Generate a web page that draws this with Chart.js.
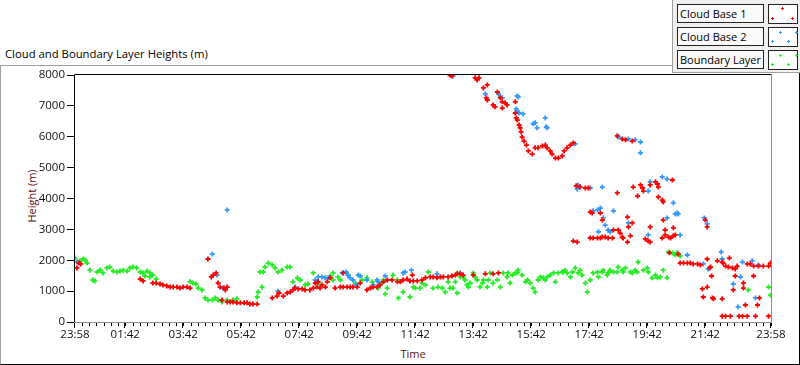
<!DOCTYPE html>
<html>
<head>
<meta charset="utf-8">
<script src="https://cdn.jsdelivr.net/npm/chart.js@4"></script>
<style>
body { margin: 0; background: #fff; }
#wrap { position: relative; width: 800px; height: 365px; overflow: hidden; background: #fff; font-family: "Open Sans", sans-serif; font-size: 11px; }
#frame { position: absolute; left: 0; top: 65px; width: 800px; height: 300px; box-sizing: border-box;
  border-top: 1px solid #a0a0a0; border-left: 1px solid #a0a0a0; border-right: 1px solid #000; border-bottom: 1px solid #000; }
#chart { position: absolute; left: 0; top: 0; }
#title { position: absolute; left: 5px; top: 46px; color: #000; white-space: nowrap; font-size: 11.3px; }
#ytitle { position: absolute; left: 31px; top: 196px; color: #5a1010; transform: translate(-50%, -50%) rotate(-90deg); white-space: nowrap; }
#xtitle { position: absolute; left: 413px; top: 346px; color: #5a1010; transform: translateX(-50%); }
#legend { position: absolute; left: 672px; top: 0; width: 128px; height: 73px; box-sizing: border-box; background: #f0f0f0;
  border-left: 1px solid #a0a0a0; border-bottom: 1px solid #a0a0a0; z-index: 2; }
.lab { position: absolute; left: 4px; width: 87px; height: 19px; box-sizing: border-box; border: 1px solid #222; background: #fafafa;
  padding-left: 2px; line-height: 17px; white-space: nowrap; overflow: hidden; }
.sw { position: absolute; left: 95px; width: 30px; height: 20px; box-sizing: border-box; border: 1px solid #222; background: #fff; }
.p { position: absolute; width: 3px; height: 3px; }
.p::before, .p::after { content: ""; position: absolute; background: currentColor; }
.p::before { left: 1px; top: 0; width: 1px; height: 3px; }
.p::after { left: 0; top: 1px; width: 3px; height: 1px; }
</style>
</head>
<body>
<div id="wrap">
  <div id="frame"></div>
  <div id="title">Cloud and Boundary Layer Heights (m)</div>
  <div id="ytitle">Height (m)</div>
  <div id="xtitle">Time</div>
  <canvas id="chart" width="800" height="365"></canvas>
  <div id="legend"></div>
</div>
<script>
// ==============================
// DATA  (minutes after 23:58, height in m)
// ==============================
const seriesNames = ["Cloud Base 1", "Cloud Base 2", "Boundary Layer"];
const seriesColors = ["#ff0000", "#3399ff", "#22ee22"];

const cloudBase1 = [
  [4,1750],[8,1910],[12,1880],[135,1390],[141,1330],[161,1260],[168,1260],[176,1230],[182,1200],[190,1170],
  [197,1130],[203,1130],[211,1130],[217,1100],[224,1130],[232,1130],[238,1100],[275,2040],[282,1460],[286,1520],
  [292,1590],[296,1260],[300,1130],[308,1100],[315,1130],[311,1040],[304,710],[315,650],[321,650],[327,650],
  [335,620],[342,620],[350,620],[356,620],[362,580],[368,580],[377,580],[408,780],[418,840],[422,940],
  [431,840],[439,940],[445,970],[451,1040],[455,1100],[462,1070],[470,1070],[476,1040],[486,1040],[493,1100],
  [497,1260],[501,1130],[503,1300],[507,1100],[511,1200],[518,1130],[522,1300],[528,1430],[538,1100],[549,1130],
  [555,1130],[563,1130],[569,1130],[575,1130],[584,1130],[555,1590],[590,1260],[604,1040],[611,1100],[617,1130],
  [625,1130],[631,1200],[638,1300],[646,1360],[656,1360],[667,1300],[673,1300],[679,1360],[687,1390],[693,1330],
  [698,1520],[700,1330],[708,1330],[718,1360],[725,1430],[735,1460],[741,1460],[749,1430],[756,1460],[762,1460],
  [772,1460],[780,1490],[787,1520],[791,1560],[797,1560],[803,1520],[824,1520],[849,1560],[865,1560],[876,1590],
  [776,7990],[780,7970],[828,7910],[832,7840],[836,7910],[845,7580],[853,7680],[851,7260],[853,7190],[865,7030],
  [869,6970],[874,7450],[880,7260],[884,7130],[884,6930],[890,7100],[894,7030],[911,7130],[911,6770],[913,6610],
  [915,6540],[919,6380],[921,6290],[923,6160],[925,5990],[929,5860],[934,5730],[938,5540],[946,5440],[952,5640],
  [958,5640],[967,5700],[973,5730],[977,5640],[983,5540],[987,5440],[994,5310],[1000,5310],[1008,5380],[1012,5540],
  [1018,5640],[1025,5730],[1031,5800],[1031,2620],[1039,2590],[1037,4410],[1045,4370],[1056,4340],[1062,4340],[1066,3560],
  [1070,3530],[1087,3530],[1091,3300],[1066,2720],[1072,2720],[1081,2720],[1087,2720],[1091,2750],[1097,2750],[1103,2720],
  [1112,2720],[1114,2980],[1122,4180],[1122,6030],[1124,2980],[1128,2880],[1132,5930],[1132,2750],[1134,2720],[1139,5900],
  [1143,3400],[1143,2590],[1145,3080],[1149,2790],[1153,3210],[1153,5860],[1155,4370],[1164,4080],[1170,4440],[1174,4340],
  [1176,4240],[1180,2690],[1186,2620],[1190,2590],[1190,3080],[1190,4440],[1201,4540],[1205,4470],[1207,4370],[1207,4050],
  [1215,3950],[1217,3890],[1217,3300],[1221,2980],[1215,2720],[1221,2820],[1228,2750],[1232,2720],[1236,4600],[1238,3050],
  [1242,2820],[1238,2790],[1230,2240],[1248,2200],[1252,1910],[1259,1910],[1267,1910],[1273,1910],[1279,1880],[1288,1880],
  [1294,1850],[1304,3300],[1308,3080],[1308,2040],[1313,1750],[1315,1780],[1317,1490],[1308,1130],[1298,1070],[1300,810],
  [1319,780],[1321,750],[1329,1980],[1339,1940],[1341,1910],[1346,1810],[1352,1780],[1354,2070],[1360,1750],[1366,1720],
  [1370,1810],[1339,750],[1366,1490],[1362,1040],[1383,1100],[1383,1260],[1387,550],[1391,1880],[1397,1880],[1404,1810],
  [1404,1490],[1412,550],[1416,780],[1414,1810],[1424,1810],[1435,1810],[1439,1910],[1339,190],[1346,190],[1356,190],
  [1374,190],[1381,190],[1391,190],[1408,190],[1435,190]
];

const cloudBase2 = [
  [4,1940],[284,2200],[315,3630],[294,1520],[306,1100],[420,1000],[455,1130],[497,1360],[503,1460],[511,1460],
  [518,1430],[524,1430],[553,1590],[561,1620],[565,1520],[569,1430],[575,1360],[582,1200],[586,1520],[590,1490],
  [604,1360],[617,1200],[625,1360],[627,1300],[642,1490],[679,1590],[683,1620],[696,1680],[749,1560],[797,1590],
  [782,7970],[849,7390],[876,7390],[880,7290],[884,7260],[913,6900],[915,6840],[919,6770],[927,6740],[915,7320],
  [917,7290],[948,6420],[952,6450],[956,6290],[973,6610],[975,6320],[977,6290],[1035,5770],[1041,4440],[1039,4310],
  [1066,4340],[1091,4370],[1072,3600],[1081,3630],[1087,3690],[1114,3600],[1093,3370],[1097,3140],[1103,2980],[1107,2920],
  [1083,2920],[1124,5990],[1145,5930],[1159,5900],[1170,5830],[1170,5480],[1145,3210],[1190,4540],[1215,4700],[1225,4630],
  [1186,4240],[1238,3860],[1246,3530],[1225,3370],[1242,3500],[1248,3500],[1186,2820],[1252,2820],[1302,3370],[1308,3180],
  [1267,2170],[1300,1880],[1310,1720],[1337,2270],[1339,2040],[1381,1940],[1401,1980],[1414,1850],[1377,1460],[1362,1230],
  [1408,780],[1372,490]
];

const boundaryLayer = [
  [0,2070],[6,1940],[10,1980],[17,2040],[21,2010],[25,1910],[31,1680],[37,1360],[41,1330],[46,1620],
  [52,1680],[58,1590],[66,1750],[72,1780],[79,1650],[87,1620],[93,1650],[99,1680],[108,1650],[114,1750],
  [120,1780],[128,1750],[135,1620],[141,1590],[145,1490],[149,1650],[155,1460],[155,1590],[161,1520],[168,1390],
  [238,1300],[244,1260],[250,1230],[255,1100],[263,1040],[269,780],[275,710],[284,710],[290,780],[296,710],
  [304,650],[315,710],[327,710],[335,750],[377,810],[379,970],[387,1130],[383,1620],[389,1620],[393,1780],
  [400,1910],[408,1850],[414,1750],[420,1620],[428,1680],[439,1780],[445,1780],[451,1300],[460,1430],[466,1360],
  [476,1200],[482,1230],[493,1590],[503,1260],[518,1430],[528,1490],[534,1360],[534,1590],[544,1460],[549,1360],
  [565,1520],[580,1260],[594,1360],[604,1430],[615,1300],[615,1130],[627,1100],[635,1260],[638,1360],[642,910],
  [646,1100],[658,1520],[667,1360],[669,780],[679,970],[693,810],[700,1130],[704,1100],[714,1100],[718,1260],
  [725,1200],[731,1620],[741,1100],[751,1130],[760,1100],[766,970],[772,1300],[776,1100],[782,1100],[787,1300],
  [791,940],[791,1590],[797,1460],[803,1460],[807,1360],[811,1200],[814,1130],[818,1260],[824,1590],[828,1460],
  [832,1360],[838,1130],[843,1260],[845,1360],[853,1130],[855,1360],[859,1590],[865,1260],[874,1360],[880,1130],
  [886,1590],[894,1460],[896,1590],[900,1260],[905,1520],[911,1590],[915,1590],[917,1680],[925,1520],[932,1300],
  [936,1360],[942,1260],[948,1100],[952,970],[958,1360],[963,1460],[969,1430],[973,1360],[977,1460],[983,1520],
  [990,1590],[994,1300],[1000,1590],[1008,1620],[1010,1620],[1014,1680],[1018,1590],[1025,1460],[1029,1620],[1035,1750],
  [1041,1590],[1045,1680],[1049,1520],[1056,1260],[1060,970],[1066,1360],[1072,1590],[1081,1620],[1083,1460],[1091,1620],
  [1093,1680],[1101,1520],[1103,1590],[1107,1680],[1114,1620],[1122,1620],[1124,1780],[1132,1680],[1134,1620],[1139,1750],
  [1149,1620],[1153,1590],[1159,1680],[1163,1620],[1165,1940],[1176,1680],[1184,1750],[1186,1620],[1194,1430],[1201,1520],
  [1205,1430],[1211,1460],[1217,1680],[1225,1430],[1228,2270],[1236,2240],[1242,2170],[1246,2240],[1252,2140],[1393,1040],
  [1435,1130],[1439,870]
];

const xTickMinutes = [0, 104, 224, 344, 464, 584, 704, 824, 944, 1064, 1184, 1304, 1440];
const xTickLabels = ["23:58", "01:42", "03:42", "05:42", "07:42", "09:42", "11:42", "13:42", "15:42", "17:42", "19:42", "21:42", "23:58"];
const xMinorStep = 15;
const yTickValues = [0, 1000, 2000, 3000, 4000, 5000, 6000, 7000, 8000];
const yTickLabels = ["0", "1000", "2000", "3000", "4000", "5000", "6000", "7000", "8000"];

// legend swatch marker spots
const swatchSpots = [
  [[12,2],[2,12],[22,12]],
  [[10,3],[26,3],[2,12],[18,12]],
  [[10,3],[26,3],[2,12],[18,12]]
];

// ==============================
// LEGEND
// ==============================
const legendEl = document.getElementById("legend");
seriesNames.forEach((name, i) => {
    const top = 4 + i * 23;
    const lab = document.createElement("div");
    lab.className = "lab";
    lab.style.top = top + "px";
    lab.textContent = name;
    legendEl.appendChild(lab);

    const sw = document.createElement("div");
    sw.className = "sw";
    sw.style.top = top + "px";
    sw.style.color = seriesColors[i];
    swatchSpots[i].forEach(s => {
        const p = document.createElement("span");
        p.className = "p";
        p.style.left = s[0] + "px";
        p.style.top = s[1] + "px";
        sw.appendChild(p);
    });
    legendEl.appendChild(sw);
});

// ==============================
// FRAME + TIME TICKS
// ==============================
const framePlugin = {
    id: "frame",
    afterDraw(chart) {
        const { ctx, chartArea: a } = chart;
        const xs = chart.scales.x;
        ctx.save();
        ctx.lineWidth = 1;

        ctx.strokeStyle = "#000";
        ctx.beginPath();
        ctx.moveTo(a.left - 0.5, a.bottom);
        ctx.lineTo(a.left - 0.5, a.top - 0.5);
        ctx.lineTo(a.right + 0.5, a.top - 0.5);
        ctx.stroke();

        ctx.strokeStyle = "#8c8c8c";
        ctx.beginPath();
        ctx.moveTo(a.right + 0.5, a.top);
        ctx.lineTo(a.right + 0.5, a.bottom + 0.5);
        ctx.lineTo(a.left - 1, a.bottom + 0.5);
        ctx.stroke();

        // minor then major ticks under the time axis
        ctx.strokeStyle = "#000";
        ctx.beginPath();
        for (let m = xTickMinutes[1] % xMinorStep; m <= 1440; m += xMinorStep) {
            const px = Math.round(xs.getPixelForValue(m)) + 0.5;
            ctx.moveTo(px, a.bottom + 1);
            ctx.lineTo(px, a.bottom + 4);
        }
        xTickMinutes.forEach(m => {
            const px = Math.round(xs.getPixelForValue(m)) - 0.5;
            ctx.moveTo(px, a.bottom + 1);
            ctx.lineTo(px, a.bottom + 6);
        });
        ctx.stroke();
        ctx.restore();
    }
};

// ==============================
// CHART
// ==============================
const toPoints = arr => arr.map(d => ({ x: d[0], y: d[1] }));
const tickFont = { family: "'Open Sans', sans-serif", size: 11.5 };

new Chart(document.getElementById("chart"), {
    type: "scatter",
    data: {
        datasets: [cloudBase1, cloudBase2, boundaryLayer].map((arr, i) => ({
            label: seriesNames[i],
            data: toPoints(arr),
            pointStyle: "cross",
            radius: 2.5,
            borderWidth: 1.8,
            borderColor: seriesColors[i],
            backgroundColor: seriesColors[i]
        }))
    },
    options: {
        responsive: false,
        animation: false,
        events: [],
        layout: { padding: { left: 0, right: 29, top: 75, bottom: 0 } },
        plugins: { legend: { display: false }, tooltip: { enabled: false } },
        scales: {
            x: {
                type: "linear",
                min: 0,
                max: 1440,
                afterFit(s) { s.height = 43; },
                afterBuildTicks(s) { s.ticks = xTickMinutes.map(v => ({ value: v })); },
                ticks: {
                    autoSkip: false,
                    maxRotation: 0,
                    padding: 1,
                    color: "#111",
                    font: tickFont,
                    callback: (v, i) => xTickLabels[i]
                },
                grid: { display: true, drawOnChartArea: false, tickLength: 5, tickColor: "rgba(0,0,0,0)" },
                border: { display: false }
            },
            y: {
                min: 0,
                max: 8000,
                afterFit(s) { s.width = 75; },
                afterBuildTicks(s) { s.ticks = yTickValues.map(v => ({ value: v })); },
                ticks: {
                    padding: 2,
                    color: "#111",
                    font: tickFont,
                    callback: (v, i) => yTickLabels[i]
                },
                grid: { display: true, drawOnChartArea: false, tickLength: 8, tickColor: "#000" },
                border: { display: false }
            }
        }
    },
    plugins: [framePlugin]
});
</script>
</body>
</html>
